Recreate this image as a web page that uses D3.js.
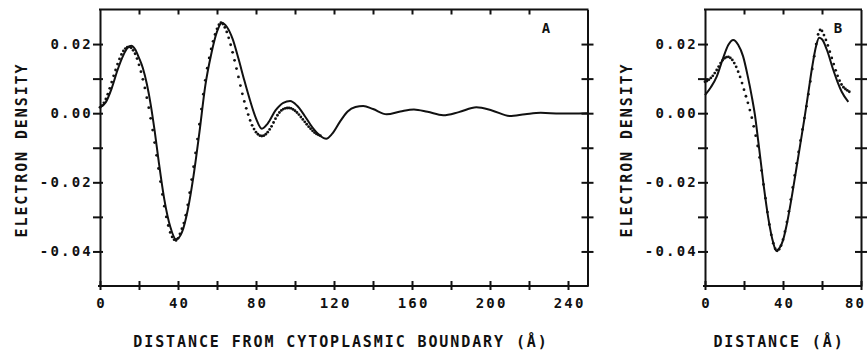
<!DOCTYPE html>
<meta charset="utf-8">
<script src="https://cdnjs.cloudflare.com/ajax/libs/d3/7.8.5/d3.min.js"></script>
<style>
  body { margin: 0; background: #fff; }
  svg { display: block; }
  text { font-family: "DejaVu Sans Mono", monospace; font-weight: bold; fill: #111; }
  .tick text { font-size: 14px; letter-spacing: 2.2px; }
  .title { font-size: 15px; letter-spacing: 1.9px; }
  .panel-label { font-size: 14px; }
  .axis path, .axis line { stroke: #111; stroke-width: 2px; }
  .curve { fill: none; stroke: #111; stroke-width: 2px; stroke-linejoin: round; }
  .dot { fill: #111; }
</style>
<body>
<script>

// ---- data ----

var densityTicks = [-0.04, -0.03, -0.02, -0.01, 0, 0.01, 0.02];
var densityLabels = [-0.04, -0.02, 0, 0.02];

var distTicksA = [0, 20, 40, 60, 80, 100, 120, 140, 160, 180, 200, 220, 240];
var distLabelsA = [0, 40, 80, 120, 160, 200, 240];
var distTicksB = [0, 20, 40, 60, 80];
var distLabelsB = [0, 40, 80];

// panel A, solid profile: [distance (A), density]
var solidA = [
  [0, 0.0017], [3, 0.0032], [6, 0.0072], [9, 0.0125], [12, 0.0168], [14, 0.0188],
  [16, 0.0195], [18, 0.0185], [20, 0.0160], [22, 0.0130], [24, 0.0085], [26, 0.0025],
  [28, -0.0050], [30, -0.0135], [33, -0.0250], [36, -0.0328], [39, -0.0365], [42, -0.0345],
  [45, -0.0280], [48, -0.0180], [51, -0.0055], [54, 0.0080], [57, 0.0170], [60, 0.0236],
  [62.5, 0.0262], [65, 0.0250], [68, 0.0215], [71, 0.0158], [74, 0.0095], [77, 0.0036],
  [80, -0.0015], [83, -0.0045], [86, -0.0030], [90, 0.0008], [94, 0.0030], [97.5, 0.0035],
  [101, 0.0022], [105, -0.0008], [109, -0.0042], [113, -0.0066], [116, -0.0074], [119, -0.0060],
  [123, -0.0025], [127, 0.0005], [131, 0.0018], [135, 0.0021], [140, 0.0012], [147, -0.0003],
  [154, 0.0005], [161, 0.0011], [168, 0.0004], [176, -0.0006], [184, 0.0003], [193, 0.0017],
  [201, 0.0008], [210, -0.0008], [218, -0.0003], [226, 0.0001], [236, -0.0001], [250, 0]
];

// panel A, dotted profile: one value per 1 A from 0 to 113
var dottedA = [
  0.0017, 0.0022, 0.0030, 0.0041, 0.0055, 0.0072, 0.0090, 0.0108, 0.0125, 0.0142,
  0.0157, 0.0170, 0.0180, 0.0187, 0.0191, 0.0192, 0.0189, 0.0182, 0.0172, 0.0158,
  0.0140, 0.0120, 0.0098, 0.0073, 0.0045, 0.0016, -0.0015, -0.0049, -0.0085, -0.0122,
  -0.0160, -0.0198, -0.0235, -0.0269, -0.0300, -0.0325, -0.0345, -0.0358, -0.0366, -0.0368,
  -0.0362, -0.0349, -0.0334, -0.0318, -0.0295, -0.0265, -0.0230, -0.0192, -0.0155, -0.0115,
  -0.0075, -0.0032, 0.0012, 0.0055, 0.0095, 0.0130, 0.0160, 0.0186, 0.0208, 0.0228,
  0.0244, 0.0256, 0.0262, 0.0258, 0.0248, 0.0235, 0.0218, 0.0198, 0.0176, 0.0153,
  0.0129, 0.0105, 0.0080, 0.0056, 0.0034, 0.0014, -0.0004, -0.0021, -0.0035, -0.0046,
  -0.0055, -0.0061, -0.0065, -0.0066, -0.0065, -0.0061, -0.0055, -0.0047, -0.0038, -0.0027,
  -0.0016, -0.0006, 0.0002, 0.0008, 0.0012, 0.0014, 0.0015, 0.0015, 0.0014, 0.0011,
  0.0007, 0.0002, -0.0004, -0.0011, -0.0018, -0.0025, -0.0032, -0.0039, -0.0045, -0.0051,
  -0.0056, -0.0060, -0.0063, -0.0065
];

// panel B, solid profile
var solidB = [
  [0, 0.0052], [3, 0.0075], [6, 0.0106], [9, 0.0155], [12, 0.0198], [14.5, 0.0212],
  [17, 0.0198], [19.5, 0.0165], [22, 0.0105], [24, 0.0048], [25.6, -0.0005], [27.4, -0.0085],
  [30, -0.0205], [32.5, -0.0305], [35, -0.0375], [36.5, -0.0398], [38, -0.0392], [40, -0.0368],
  [42, -0.0320], [45, -0.0225], [47, -0.0155], [49, -0.0085], [51, -0.0015], [53, 0.0060],
  [55, 0.0135], [57, 0.0195], [58.5, 0.0218], [60, 0.0214], [62.4, 0.0185], [65.8, 0.0125],
  [68, 0.0090], [70.1, 0.0062], [73.5, 0.0033]
];

// panel B, dotted profile: one value per 1 A from 0 to 74
var dottedB = [
  0.0091, 0.0093, 0.0097, 0.0102, 0.0108, 0.0116, 0.0125, 0.0135, 0.0145, 0.0153,
  0.0159, 0.0162, 0.0163, 0.0160, 0.0154, 0.0145, 0.0134, 0.0120, 0.0105, 0.0087,
  0.0068, 0.0049, 0.0030, 0.0009, -0.0013, -0.0038, -0.0065, -0.0095, -0.0128, -0.0166,
  -0.0206, -0.0246, -0.0286, -0.0322, -0.0352, -0.0376, -0.0392, -0.0398, -0.0394, -0.0383,
  -0.0366, -0.0343, -0.0315, -0.0284, -0.0250, -0.0215, -0.0180, -0.0145, -0.0112, -0.0079,
  -0.0047, -0.0014, 0.0020, 0.0055, 0.0092, 0.0128, 0.0165, 0.0200, 0.0228, 0.0241,
  0.0238, 0.0226, 0.0212, 0.0196, 0.0178, 0.0160, 0.0142, 0.0124, 0.0108, 0.0094,
  0.0083, 0.0075, 0.0070, 0.0066, 0.0062
];

// ---- layout ----

var svg = d3.select("body").append("svg")
    .attr("width", 868)
    .attr("height", 354);

var y = d3.scaleLinear().domain([-0.05, 0.03]).range([286, 9.5]);

var fmt = function(v) { return d3.format(".2f")(v).replace("\u2212", "-"); };

function drawPanel(opt) {
  var x = d3.scaleLinear().domain(opt.domain).range(opt.range);
  var x0 = opt.range[0], x1 = opt.range[1];

  // left axis, ticks mostly outward
  var left = svg.append("g").attr("class", "axis")
      .attr("transform", "translate(" + x0 + ",0)")
      .call(d3.axisLeft(y).tickValues(densityTicks).tickSize(6).tickSizeOuter(0).tickPadding(1)
        .tickFormat(function(d) {
          return densityLabels.some(function(l) { return Math.abs(l - d) < 1e-9; }) ? fmt(d) : "";
        }));
  left.selectAll(".tick line").attr("x2", -7).attr("x1", 3);

  // right axis, ticks crossing
  var right = svg.append("g").attr("class", "axis")
      .attr("transform", "translate(" + x1 + ",0)")
      .call(d3.axisRight(y).tickValues(densityTicks).tickSize(6).tickSizeOuter(0).tickFormat(""));
  right.selectAll(".tick line").attr("x1", -6);

  // bottom axis, ticks crossing
  var bottom = svg.append("g").attr("class", "axis")
      .attr("transform", "translate(0," + y.range()[0] + ")")
      .call(d3.axisBottom(x).tickValues(opt.ticks).tickSize(4).tickSizeOuter(0).tickPadding(8)
        .tickFormat(function(d) { return opt.labels.indexOf(d) >= 0 ? d : ""; }));
  bottom.select(".domain").attr("d", "M" + (x0 - 2) + ",0H" + (x1 + 1));
  bottom.selectAll(".tick line").attr("y1", -5);
  bottom.selectAll(".tick text").attr("dx", function(d) {
    return d === opt.domain[1] ? opt.lastLabelDx + "px" : "1.1px";
  });

  // top axis, ticks inward
  var top = svg.append("g").attr("class", "axis")
      .attr("transform", "translate(0," + y.range()[1] + ")")
      .call(d3.axisTop(x).tickValues(opt.ticks.slice(1, -1)).tickSize(-5).tickSizeOuter(0).tickFormat(""));
  top.select(".domain").attr("d", "M" + (x0 - 1) + ",0H" + (x1 + 1));

  var line = d3.line()
      .x(function(d) { return x(d[0]); })
      .y(function(d) { return y(d[1]); })
      .curve(d3.curveMonotoneX);

  svg.append("path")
      .attr("class", "curve")
      .attr("d", line(opt.solid));

  svg.append("g").selectAll("circle")
      .data(opt.dotted)
    .enter().append("circle")
      .attr("class", "dot")
      .attr("cx", function(d, i) { return x(i); })
      .attr("cy", function(d) { return y(d); })
      .attr("r", 1.4);

  svg.append("text")
      .attr("class", "title")
      .attr("text-anchor", "middle")
      .attr("x", opt.titleX)
      .attr("y", 347)
      .text(opt.title);

  svg.append("text")
      .attr("class", "title")
      .attr("text-anchor", "middle")
      .attr("transform", "translate(" + opt.yTitleX + ",150) rotate(-90)")
      .text("ELECTRON DENSITY");

  svg.append("text")
      .attr("class", "panel-label")
      .attr("text-anchor", "middle")
      .attr("x", opt.labelX)
      .attr("y", 33)
      .text(opt.label);
}

drawPanel({
  domain: [0, 250], range: [100, 587.5],
  ticks: distTicksA, labels: distLabelsA,
  solid: solidA, dotted: dottedA, lastLabelDx: 1.1,
  title: "DISTANCE FROM CYTOPLASMIC BOUNDARY (\u00c5)", titleX: 341,
  yTitleX: 27, label: "A", labelX: 546
});

drawPanel({
  domain: [0, 80], range: [705, 861],
  ticks: distTicksB, labels: distLabelsB,
  solid: solidB, dotted: dottedB, lastLabelDx: -6,
  title: "DISTANCE (\u00c5)", titleX: 779,
  yTitleX: 632, label: "B", labelX: 838
});

</script>
</body>
